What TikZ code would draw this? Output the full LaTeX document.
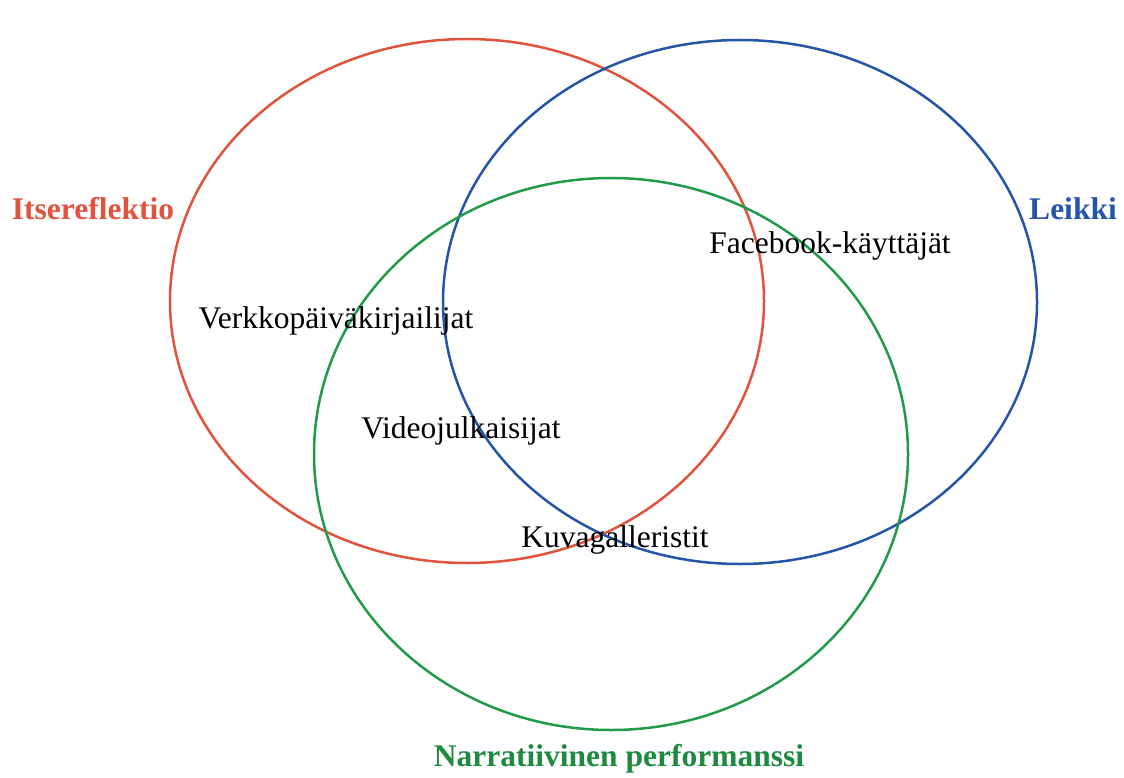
\documentclass[tikz,border=0pt]{standalone}
\usepackage{fontspec}
\setmainfont{Liberation Serif}
\usetikzlibrary{shapes}

\definecolor{setRed}{HTML}{E0533C}
\definecolor{setBlue}{HTML}{2455A6}
\definecolor{setGreen}{HTML}{229A4A}
\definecolor{titleGreen}{HTML}{1E8A40}

\begin{document}
\begin{tikzpicture}[x = 1pt, y = -1pt, font=\fontsize{31.5}{36}\selectfont]
	\tikzstyle{SetStyle} = [line width = 2.5pt]
	\tikzstyle{titleStyle} = [inner sep = 0pt, font=\fontsize{31.5}{36}\selectfont\bfseries]
	\tikzstyle{memberStyle} = [inner sep = 0pt]
	\useasboundingbox (0, 0) rectangle (1124, 778);
	\draw[SetStyle, setRed] (467, 301) ellipse (297 and 262);
	\draw[SetStyle, setBlue] (740, 302) ellipse (297 and 262);
	\draw[SetStyle, setGreen] (611, 454) ellipse (297 and 276);
	\node[titleStyle, text = setRed] (itse) at (93, 209) {Itsereflektio};
	\node[titleStyle, text = setBlue] (leikki) at (1073, 209) {Leikki};
	\node[titleStyle, text = titleGreen] (narr) at (619, 759) {Narratiivinen performanssi};
	\node[memberStyle] (facebook) at (830, 246) {Facebook-käyttäjät};
	\node[memberStyle] (verkko) at (336, 321) {Verkkopäiväkirjailijat};
	\node[memberStyle] (video) at (461, 431) {Videojulkaisijat};
	\node[memberStyle] (kuva) at (615, 540) {Kuvagalleristit};
\end{tikzpicture}
\end{document}
